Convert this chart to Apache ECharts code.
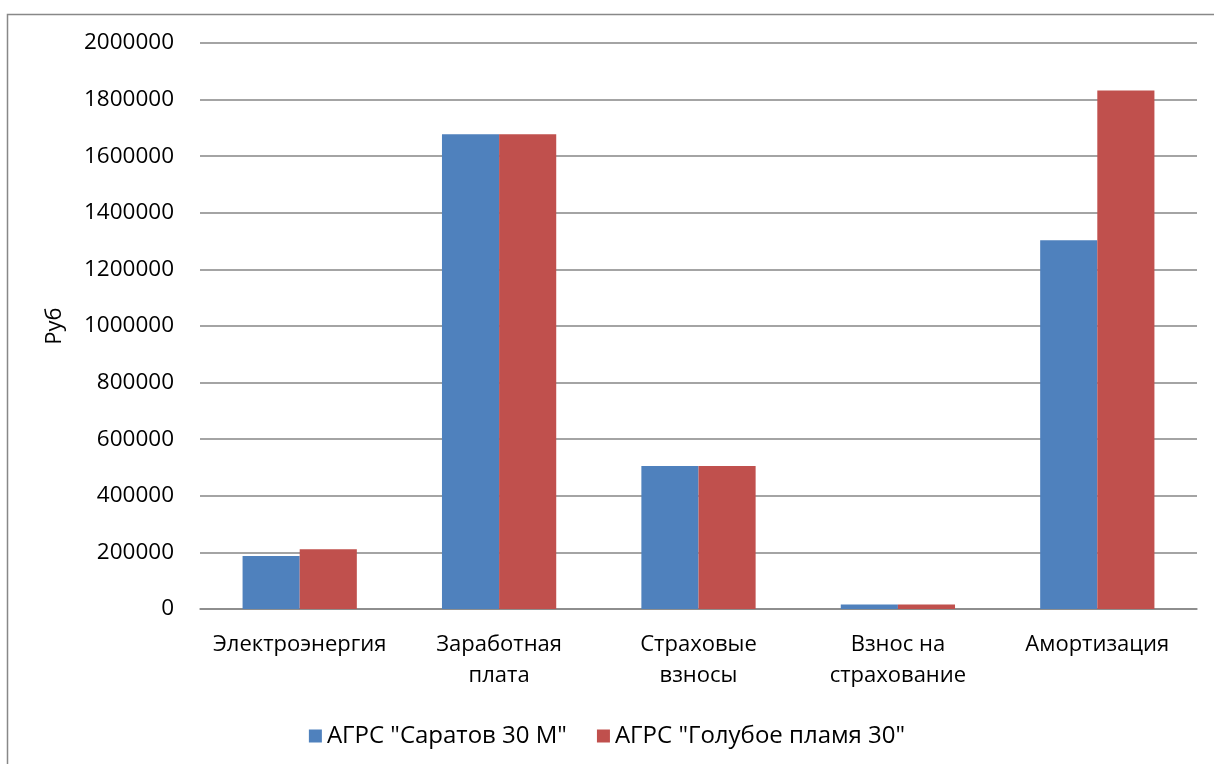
<!DOCTYPE html>
<html>
<head>
<meta charset="utf-8">
<script src="https://cdn.jsdelivr.net/npm/echarts@6/dist/echarts.min.js"></script>
<style>
  html, body { margin: 0; padding: 0; background: #fff; }
  #chart { width: 1214px; height: 764px; }
</style>
</head>
<body>
<div id="chart"></div>
<script>
// Categories of operating costs (two-line labels)
const categories = ['Электроэнергия', 'Заработная\nплата', 'Страховые\nвзносы', 'Взнос на\nстрахование', 'Амортизация'];
// Series names
const seriesNames = ['АГРС "Саратов 30 М"', 'АГРС "Голубое пламя 30"'];
// Costs, rubles
const saratov = [187000, 1678000, 505000, 16000, 1303000];
const goluboe = [211000, 1678000, 505000, 16000, 1832000];
// Value axis range
const yMin = 0, yMax = 2000000, yStep = 200000;

const font = '"Open Sans", "DejaVu Sans", sans-serif';
const chart = echarts.init(document.getElementById('chart'), null, { renderer: 'canvas' });

chart.setOption({
  animation: false,
  backgroundColor: '#ffffff',
  textStyle: { fontFamily: font },
  graphic: [{
    type: 'rect',
    shape: { x: 7.5, y: 14.5, width: 1400, height: 900 },
    style: { fill: 'none', stroke: '#888888', lineWidth: 1.5 },
    silent: true
  }],
  grid: { left: 200, right: 17, top: 43, bottom: 155, containLabel: false },
  legend: {
    top: 719,
    left: 'center',
    itemWidth: 13,
    itemHeight: 13,
    itemGap: 30,
    icon: 'rect',
    textStyle: { fontSize: 24, color: '#000', fontFamily: font, padding: [0, 0, 0, 0] },
    data: seriesNames
  },
  xAxis: {
    type: 'category',
    data: categories,
    axisTick: { show: false },
    axisLine: { lineStyle: { color: '#868686', width: 1.5 } },
    axisLabel: { color: '#000', fontSize: 22, lineHeight: 31, margin: 20, interval: 0, fontFamily: font }
  },
  yAxis: {
    type: 'value',
    min: yMin, max: yMax, interval: yStep,
    name: 'Руб',
    nameLocation: 'middle',
    nameGap: 134,
    nameRotate: 90,
    nameTextStyle: { color: '#000', fontSize: 22, fontFamily: font },
    axisLine: { show: false },
    axisTick: { show: false },
    splitLine: { lineStyle: { color: '#868686', width: 1.5 } },
    axisLabel: { color: '#000', fontSize: 22.5, margin: 26, fontFamily: font, formatter: v => String(v) }
  },
  series: [
    {
      name: seriesNames[0], type: 'bar', data: saratov,
      barGap: '0%', barCategoryGap: '42.7%',
      itemStyle: { color: '#4F81BD' }
    },
    {
      name: seriesNames[1], type: 'bar', data: goluboe,
      barGap: '0%', barCategoryGap: '42.7%',
      itemStyle: { color: '#C0504D' }
    }
  ]
});
</script>
</body>
</html>
